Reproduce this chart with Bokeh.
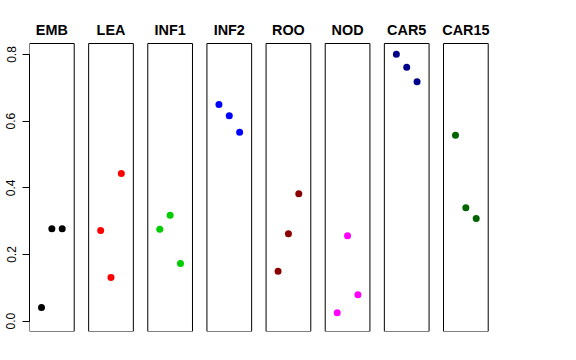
from bokeh.plotting import figure
from bokeh.models import ColumnDataSource, FixedTicker, Range1d
from bokeh.core.properties import value
from bokeh.embed import file_html
from bokeh.resources import INLINE

# ---- data -------------------------------------------------------------
categories = ["EMB", "LEA", "INF1", "INF2", "ROO", "NOD", "CAR5", "CAR15"]
positions = [1, 2, 3]
emb = [0.041, 0.277, 0.277]
lea = [0.272, 0.131, 0.443]
inf1 = [0.276, 0.318, 0.173]
inf2 = [0.650, 0.616, 0.567]
roo = [0.150, 0.262, 0.382]
nod = [0.025, 0.256, 0.079]
car5 = [0.801, 0.762, 0.718]
car15 = [0.558, 0.340, 0.308]
series = [emb, lea, inf1, inf2, roo, nod, car5, car15]
colors = ["#000000", "#FF0000", "#00CD00", "#0000FF",
          "#8B0000", "#FF00FF", "#00008B", "#006400"]
y_ticks = [0.0, 0.2, 0.4, 0.6, 0.8]
y_tick_labels = ["0.0", "0.2", "0.4", "0.6", "0.8"]

# ---- panel geometry (data units) ----------------------------------------
px_per_unit = 10.35
pitch = 40.0 / 7.0          # panel-to-panel distance
pan_lo, pan_hi = -0.16, 4.16  # x extent of each panel
y_lo, y_hi = -0.031, 0.833    # y extent of each panel
title_y = 0.875

frame_w = 462
frame_h = 323
left_border = 29
top_border = 8
x_start = pan_lo
x_end = x_start + frame_w / px_per_unit

p = figure(width=left_border + frame_w, height=top_border + frame_h + 5,
           x_range=Range1d(x_start, x_end), y_range=Range1d(-0.031, 0.938),
           output_backend="svg", toolbar_location=None,
           x_axis_type=None, min_border_left=left_border,
           min_border_right=0, min_border_top=top_border, min_border_bottom=5)
p.outline_line_color = None
p.xgrid.visible = False
p.ygrid.visible = False

# panel frames
offsets = [i * pitch for i in range(len(categories))]
frames = ColumnDataSource(dict(
    left=[o + pan_lo for o in offsets], right=[o + pan_hi for o in offsets],
    bottom=[y_lo] * len(offsets), top=[y_hi] * len(offsets)))
p.quad(left="left", right="right", bottom="bottom", top="top", source=frames,
       fill_color=None, line_color="black", line_width=1)

# titles
titles = ColumnDataSource(dict(x=[o + 2 for o in offsets],
                               y=[title_y] * len(offsets), t=categories))
p.text(x="x", y="y", text="t", source=titles, text_align="center",
       text_baseline="middle", text_font=value("Liberation Sans"),
       text_font_style="bold", text_font_size="14.4px", text_color="black")

# points
xs, ys, cs = [], [], []
for o, vals, c in zip(offsets, series, colors):
    for pos, v in zip(positions, vals):
        xs.append(o + pos)
        ys.append(v)
        cs.append(c)
pts = ColumnDataSource(dict(x=xs, y=ys, c=cs))
p.scatter(x="x", y="y", color="c", source=pts, size=7, line_width=0)

# y axis
ax = p.yaxis[0]
ax.ticker = FixedTicker(ticks=y_ticks)
ax.major_label_overrides = {t: l for t, l in zip(y_ticks, y_tick_labels)}
ax.bounds = (0, 0.8)
ax.major_tick_out = 7
ax.major_tick_in = 0
ax.minor_tick_out = 0
ax.minor_tick_in = 0
ax.major_label_standoff = 7
ax.major_label_orientation = "vertical"
ax.major_label_text_font = "Liberation Sans"
ax.major_label_text_font_size = "12px"
ax.major_label_text_color = "black"
ax.axis_line_color = "black"
ax.major_tick_line_color = "black"

open("out.html", "w").write(file_html(p, INLINE))
